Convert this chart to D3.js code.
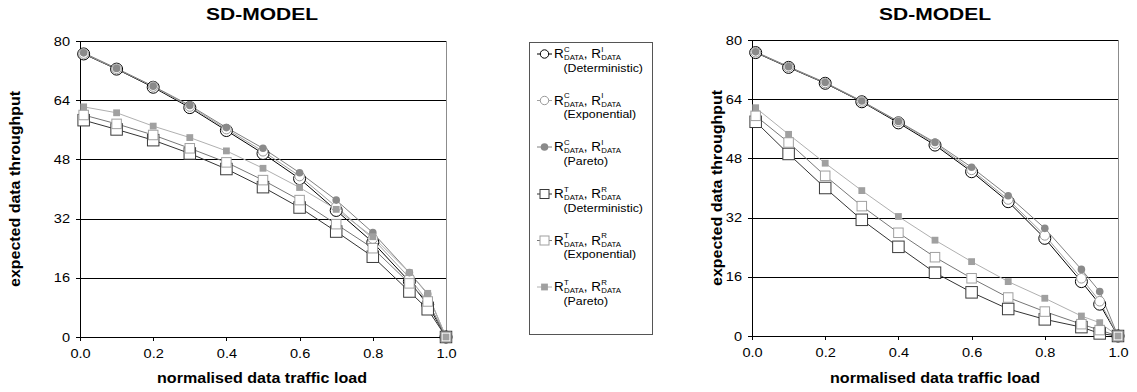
<!DOCTYPE html>
<html><head><meta charset="utf-8">
<script src="https://cdn.jsdelivr.net/npm/d3@7"></script>
<style>
html,body{margin:0;padding:0;background:#fff;}
svg{display:block;font-family:"Liberation Sans",Arial,sans-serif;}
</style></head>
<body>
<svg id="chart" width="1137" height="392"></svg>
<script>
// ---------------- DATA ----------------
const loads = [0.01, 0.1, 0.2, 0.3, 0.4, 0.5, 0.6, 0.7, 0.8, 0.9, 0.95, 1.0];
const xTicks = [0, 0.2, 0.4, 0.6, 0.8, 1.0];
const yTicks = [0, 16, 32, 48, 64, 80];
const chartTitle = "SD-MODEL";
const xTitle = "normalised data traffic load";
const yTitle = "expected data throughput";

const leftCIDet = [76.5, 72.4, 67.5, 62.0, 55.8, 49.6, 42.8, 34.2, 25.6, 15.0, 8.8, 0];
const leftCIExp = [76.6, 72.5, 67.7, 62.3, 56.2, 50.2, 43.5, 35.2, 26.6, 16.0, 9.6, 0];
const leftCIPar = [76.8, 72.6, 67.8, 62.6, 56.6, 51.0, 44.4, 37.0, 28.2, 17.4, 11.6, 0];
const leftTRDet = [58.6, 56.1, 53.2, 49.6, 45.4, 40.5, 35.0, 28.5, 21.7, 12.3, 7.5, 0];
const leftTRExp = [60.0, 57.6, 54.6, 51.0, 47.2, 42.4, 37.0, 30.5, 24.0, 14.5, 9.6, 0];
const leftTRPar = [62.2, 60.6, 57.0, 53.9, 50.3, 45.6, 40.4, 34.5, 27.1, 17.4, 11.8, 0];

const rightCIDet = [76.6, 72.6, 68.3, 63.3, 57.6, 51.6, 44.4, 36.3, 26.4, 14.7, 8.6, 0];
const rightCIExp = [76.7, 72.7, 68.4, 63.4, 57.9, 52.0, 44.9, 36.9, 27.2, 15.6, 9.4, 0];
const rightCIPar = [76.8, 72.8, 68.5, 63.5, 58.0, 52.3, 45.6, 37.9, 29.1, 18.0, 12.0, 0];
const rightTRDet = [57.9, 49.2, 40.0, 31.4, 24.1, 17.1, 11.8, 7.3, 4.5, 2.4, 0.7, 0];
const rightTRExp = [59.5, 52.3, 43.3, 35.1, 27.9, 21.3, 15.6, 10.4, 6.6, 3.2, 1.6, 0];
const rightTRPar = [61.7, 54.5, 46.7, 39.3, 32.3, 25.9, 20.1, 14.7, 10.2, 5.4, 3.6, 0];

const seriesSup = [["C", "I"], ["C", "I"], ["C", "I"], ["T", "R"], ["T", "R"], ["T", "R"]];
const seriesDist = ["(Deterministic)", "(Exponential)", "(Pareto)", "(Deterministic)", "(Exponential)", "(Pareto)"];

// ---------------- STYLES ----------------
const styles = [
  {shape: "circle", size: 6,   fill: "#fff",    stroke: "#000",    line: "#000"},
  {shape: "circle", size: 4.8, fill: "#fff",    stroke: "#9a9a9a", line: "#a0a0a0"},
  {shape: "circle", size: 3.8, fill: "#8a8a8a", stroke: "none",    line: "#808080"},
  {shape: "square", size: 11.5, fill: "#fff",   stroke: "#3a3a3a", line: "#333"},
  {shape: "square", size: 9.5, fill: "#fff",    stroke: "#a0a0a0", line: "#777"},
  {shape: "square", size: 6.8, fill: "#a0a0a0", stroke: "none",    line: "#b0b0b0"}
];

const svg = d3.select("#chart");
const STRETCH = 1.12;
function stretch(sel, f) {
  sel.each(function() {
    const w = this.getComputedTextLength();
    d3.select(this).attr("textLength", w * f).attr("lengthAdjust", "spacingAndGlyphs");
  });
}

function drawMarker(g, st, cx, cy) {
  if (st.shape === "circle") {
    g.append("circle").attr("cx", cx).attr("cy", cy).attr("r", st.size)
      .attr("fill", st.fill).attr("stroke", st.stroke).attr("stroke-width", 1);
  } else {
    g.append("rect").attr("x", cx - st.size / 2).attr("y", cy - st.size / 2)
      .attr("width", st.size).attr("height", st.size)
      .attr("fill", st.fill).attr("stroke", st.stroke).attr("stroke-width", 1);
  }
}

function drawPanel(cfg) {
  const x = d3.scaleLinear().domain([0, 1]).range([cfg.x0, cfg.x1]);
  const y = d3.scaleLinear().domain([0, 80]).range([cfg.y0, cfg.y1]);
  const g = svg.append("g");

  // gridlines
  g.append("g").attr("transform", `translate(${cfg.x0},0)`)
    .call(d3.axisLeft(y).tickValues(yTicks.slice(1)).tickSize(-(cfg.x1 - cfg.x0)).tickFormat(""))
    .call(s => s.select(".domain").remove())
    .call(s => s.selectAll("line").attr("stroke", "#000").attr("stroke-width", 1).attr("shape-rendering", "crispEdges"));

  // right frame
  g.append("line").attr("x1", cfg.x1).attr("x2", cfg.x1).attr("y1", cfg.y1).attr("y2", cfg.y0)
    .attr("stroke", "#8c8c8c").attr("shape-rendering", "crispEdges");

  // y axis
  const ya = g.append("g").attr("transform", `translate(${cfg.x0},0)`)
    .call(d3.axisLeft(y).tickValues(yTicks).tickSize(4).tickPadding(6).tickFormat(d3.format("d")));
  ya.select(".domain").attr("stroke", "#000").attr("shape-rendering", "crispEdges");
  ya.selectAll("line").attr("stroke", "#000").attr("shape-rendering", "crispEdges");
  ya.selectAll("text").attr("font-size", 13).attr("font-family", "Liberation Sans, Arial, sans-serif").attr("fill", "#000");
  stretch(ya.selectAll("text"), STRETCH);

  // x axis
  const xa = g.append("g").attr("transform", `translate(0,${cfg.y0})`)
    .call(d3.axisBottom(x).tickValues(xTicks).tickSize(4).tickPadding(8).tickFormat(d3.format(".1f")));
  xa.select(".domain").attr("stroke", "#000").attr("shape-rendering", "crispEdges");
  xa.selectAll("line").attr("stroke", "#000").attr("shape-rendering", "crispEdges");
  xa.selectAll("text").attr("font-size", 13).attr("font-family", "Liberation Sans, Arial, sans-serif").attr("fill", "#000");
  stretch(xa.selectAll("text"), STRETCH);

  // series
  const line = d3.line().x((d, i) => x(loads[i])).y(d => y(d));
  const dataSets = cfg.series;
  dataSets.forEach((vals, si) => {
    const st = styles[si];
    g.append("path").datum(vals).attr("d", line).attr("fill", "none")
      .attr("stroke", st.line).attr("stroke-width", 1);
  });
  dataSets.forEach((vals, si) => {
    const st = styles[si];
    const mg = g.append("g");
    vals.forEach((v, i) => drawMarker(mg, st, x(loads[i]), y(v)));
  });

  // titles
  g.append("text").attr("x", cfg.titleX).attr("y", 20).attr("text-anchor", "middle")
    .attr("font-size", 17).attr("font-weight", "bold").text(chartTitle)
    .attr("textLength", 112).attr("lengthAdjust", "spacingAndGlyphs");
  g.append("text").attr("x", cfg.titleX).attr("y", 383).attr("text-anchor", "middle")
    .attr("font-size", 15).attr("font-weight", "bold").text(xTitle)
    .attr("textLength", 210).attr("lengthAdjust", "spacingAndGlyphs");
  g.append("text").attr("transform", `translate(${cfg.yTitleX},${(cfg.y0 + cfg.y1) / 2}) rotate(-90)`)
    .attr("text-anchor", "middle").attr("font-size", 15.5).attr("font-weight", "bold").text(yTitle)
    .attr("textLength", 196).attr("lengthAdjust", "spacingAndGlyphs");
}

drawPanel({x0: 80, x1: 446, y0: 337, y1: 41, titleX: 262, yTitleX: 20,
  series: [leftCIDet, leftCIExp, leftCIPar, leftTRDet, leftTRExp, leftTRPar]});
drawPanel({x0: 752, x1: 1118, y0: 336, y1: 40, titleX: 935, yTitleX: 722,
  series: [rightCIDet, rightCIExp, rightCIPar, rightTRDet, rightTRExp, rightTRPar]});

// ---------------- LEGEND ----------------
const lg = svg.append("g");
lg.append("rect").attr("x", 529.5).attr("y", 42.5).attr("width", 123).attr("height", 292)
  .attr("fill", "#fff").attr("stroke", "#555").attr("stroke-width", 1);
const itemY = [54, 100.5, 147, 194, 240.5, 287];
function appendText(x, y, txt, size) {
  const t = lg.append("text").attr("x", x).attr("y", y).attr("font-size", size).attr("fill", "#000").text(txt);
  const w = t.node().getComputedTextLength();
  t.attr("textLength", w * STRETCH).attr("lengthAdjust", "spacingAndGlyphs");
  return w * STRETCH;
}
seriesDist.forEach((dist, i) => {
  const st = styles[i];
  const yy = itemY[i];
  lg.append("line").attr("x1", 537).attr("x2", 552).attr("y1", yy).attr("y2", yy)
    .attr("stroke", st.line).attr("stroke-width", 1);
  const lst = Object.assign({}, st, {size: st.shape === "circle" ? Math.min(st.size, 4.2) : Math.min(st.size, 9)});
  drawMarker(lg, lst, 544.5, yy);
  const base = yy + 4;
  let cx = 554;
  const sup = seriesSup[i];
  cx += appendText(cx, base, "R", 12);
  const w1 = appendText(cx + 0.3, base - 6.2, sup[0], 7);
  const w2 = appendText(cx + 0.3, base + 2, "DATA", 7);
  cx += Math.max(w1, w2) + 0.3;
  cx += appendText(cx, base, ", R", 12);
  appendText(cx + 0.3, base - 6.2, sup[1], 7);
  appendText(cx + 0.3, base + 2, "DATA", 7);
  appendText(563.5, base + 13.5, dist, 11);
});
</script>
</body></html>
